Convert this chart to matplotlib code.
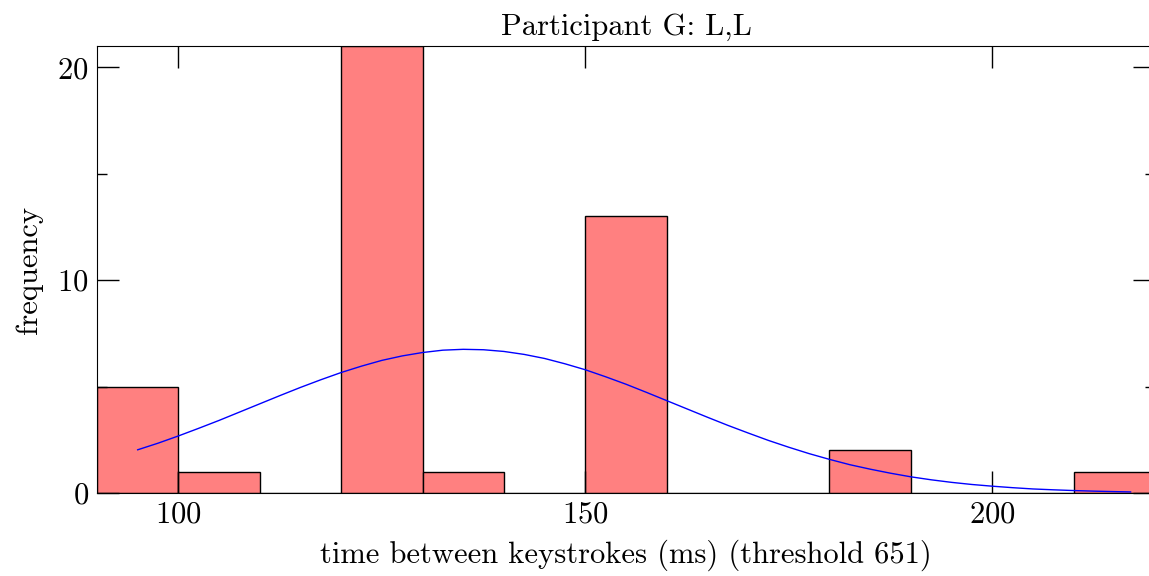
import matplotlib
matplotlib.use("Agg")
import matplotlib.pyplot as plt
from matplotlib.ticker import MultipleLocator

plt.rcParams['font.family'] = ['cmr10', 'DejaVu Serif']
plt.rcParams['mathtext.fontset'] = 'cm'
plt.rcParams['axes.unicode_minus'] = False
plt.rcParams['axes.formatter.use_mathtext'] = True

# Histogram data (bin edges in ms, counts)
bin_edges = [90, 100, 110, 120, 130, 140, 150, 160, 170, 180, 190, 200, 210, 220]
counts = [5, 1, 0, 21, 1, 0, 13, 0, 0, 2, 0, 0, 1]

# Fitted curve
curve_x = [95, 97.5, 100, 102.5, 105, 107.5, 110, 112.5, 115, 117.5, 120, 122.5,
           125, 127.5, 130, 132.5, 135, 137.5, 140, 142.5, 145, 147.5, 150, 152.5,
           155, 157.5, 160, 162.5, 165, 167.5, 170, 172.5, 175, 177.5, 180, 182.5,
           185, 187.5, 190, 192.5, 195, 197.5, 200, 202.5, 205, 207.5, 210, 212.5,
           215, 217]
curve_y = [2.03, 2.34, 2.68, 3.04, 3.41, 3.80, 4.19, 4.58, 4.96, 5.32, 5.66, 5.96,
           6.23, 6.44, 6.60, 6.71, 6.75, 6.73, 6.65, 6.51, 6.32, 6.07, 5.79, 5.46,
           5.11, 4.73, 4.34, 3.95, 3.56, 3.18, 2.82, 2.47, 2.15, 1.85, 1.58, 1.33,
           1.12, 0.93, 0.76, 0.62, 0.50, 0.40, 0.32, 0.25, 0.19, 0.15, 0.115, 0.087,
           0.065, 0.05]

title = "Participant G: L,L"
xlabel = "time between keystrokes (ms) (threshold 651)"
ylabel = "frequency"

fig = plt.figure(figsize=(11.49, 5.76), dpi=100)
ax = fig.add_axes([97/1149, 83/576, 1058/1149, 447/576])

widths = [bin_edges[i+1] - bin_edges[i] for i in range(len(counts))]
ax.bar(bin_edges[:-1], counts, width=widths, align='edge', color='#ff8080',
       edgecolor='black', linewidth=1.0)
ax.plot(curve_x, curve_y, color='blue', linewidth=1.0)

ax.set_xlim(90, 220)
ax.set_ylim(0, 21)
ax.xaxis.set_major_locator(MultipleLocator(50))
ax.yaxis.set_major_locator(MultipleLocator(10))
ax.yaxis.set_minor_locator(MultipleLocator(5))
ax.tick_params(which='both', direction='in', top=True, right=True, labelsize=22)
ax.tick_params(which='major', length=16, width=1, pad=6)
ax.tick_params(which='minor', length=7, width=1)
ax.tick_params(axis='x', which='minor', top=False, bottom=False)

ax.set_title(title, fontsize=22, pad=8)
ax.set_xlabel(xlabel, fontsize=22, labelpad=8)
ax.set_ylabel(ylabel, fontsize=22, labelpad=10)

fig.savefig("out.png", dpi=100)
